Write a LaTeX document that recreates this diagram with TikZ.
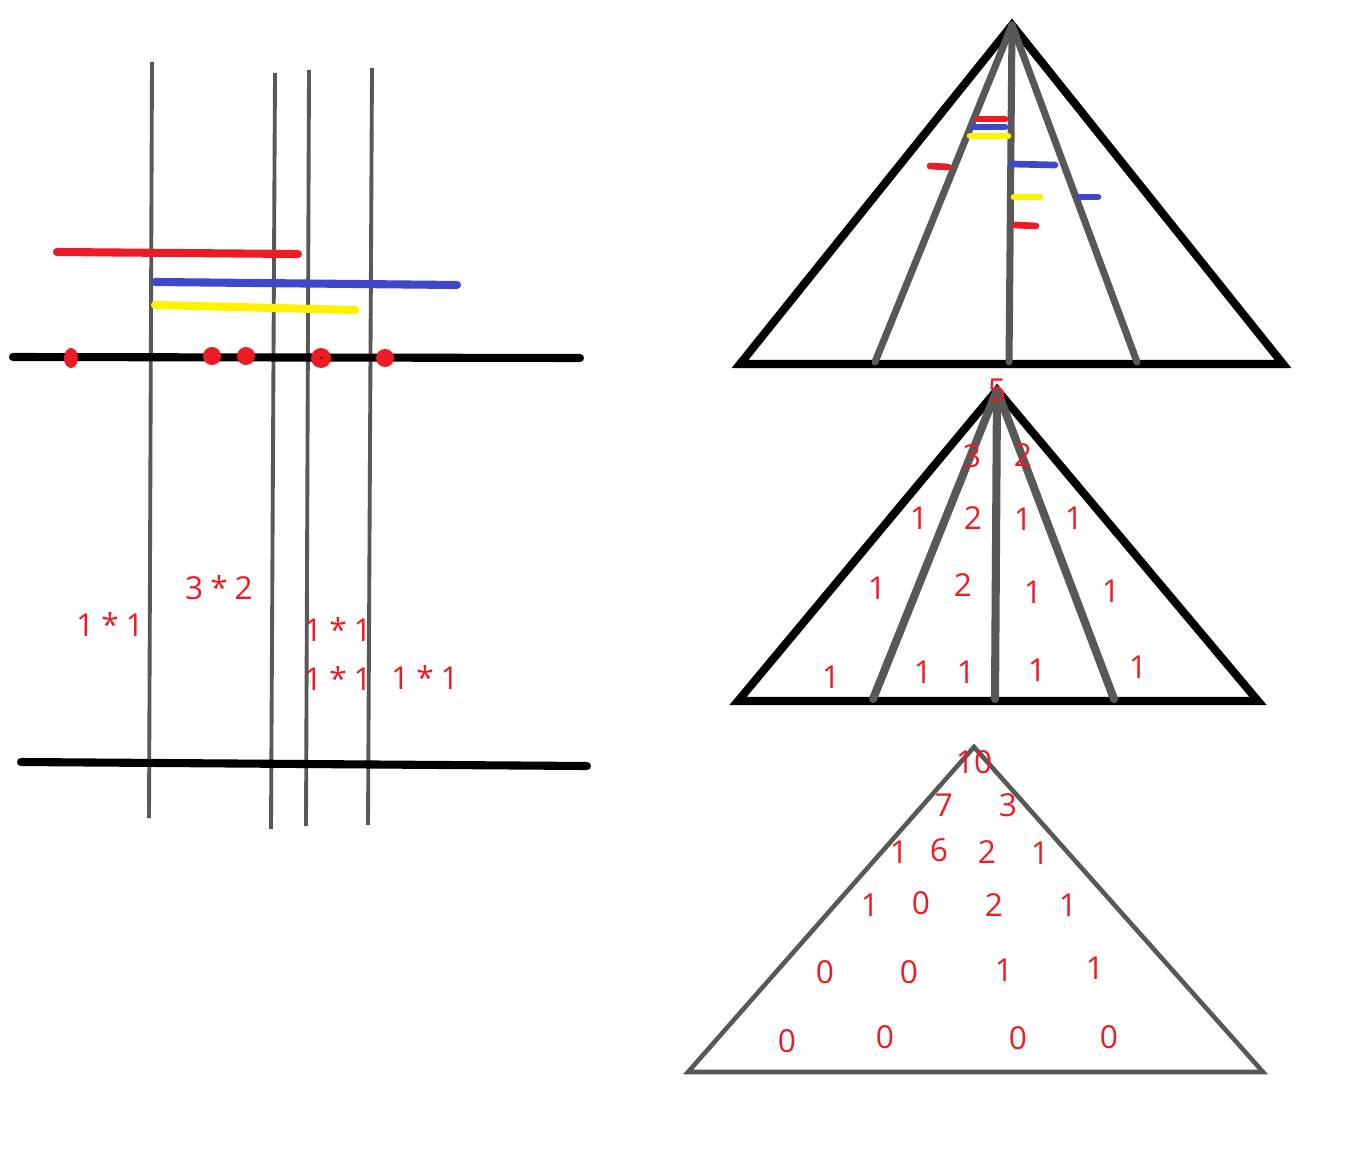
\documentclass[tikz,border=0pt]{standalone}
\usepackage{fontspec}
\setmainfont{Open Sans}
\usepackage{xcolor}
\usetikzlibrary{positioning}
\definecolor{inkred}{HTML}{ED1C24}
\definecolor{inkblue}{HTML}{3F48CC}
\definecolor{inkyellow}{HTML}{FFF200}
\definecolor{inkgray}{HTML}{585858}
\newcommand{\numfont}{\fontsize{9}{11}\selectfont\spaceskip=0.22em\relax}

\begin{document}
\begin{tikzpicture}[
  x=0.01cm,y=-0.01cm,
  num/.style={text=inkred,inner sep=0pt,font=\numfont},
  axis/.style={draw=black,line width=2.3pt,line cap=round},
  cut/.style={draw=inkgray,line width=1.1pt},
  ray/.style={draw=inkgray,line width=2pt,line cap=round},
  frame/.style={draw=black,line width=2.3pt},
  seg/.style={line width=2.3pt,line cap=round},
  tick/.style={line width=1.9pt,line cap=round},
  dot/.style={fill=inkred}
]
\useasboundingbox (0,0) rectangle (1371,1155);
% left sketch: cutting lines
\coordinate (c1t) at (152,62);  \coordinate (c1b) at (149,818);
\coordinate (c2t) at (275,73);  \coordinate (c2b) at (271,829);
\coordinate (c3t) at (309,70);  \coordinate (c3b) at (306,826);
\coordinate (c4t) at (372,68);  \coordinate (c4b) at (368,825);
\draw[cut] (c1t) -- (c1b);
\draw[cut] (c2t) -- (c2b);
\draw[cut] (c3t) -- (c3b);
\draw[cut] (c4t) -- (c4b);
% intervals
\draw[seg,inkred] (57,252) -- (298,254);
\draw[seg,inkblue] (155,282) -- (457,285);
\draw[seg,inkyellow] (155,305) -- (355,310);
% axes
\coordinate (axl) at (13,357);  \coordinate (axr) at (580,358);
\coordinate (bxl) at (21,762);  \coordinate (bxr) at (587,766);
\draw[axis] (axl) -- (axr);
\draw[axis] (bxl) -- (bxr);
\fill[dot] (71,358) ellipse[x radius=7,y radius=10];
\fill[dot] (212,356) circle[radius=9];
\fill[dot] (246,356) circle[radius=9];
\fill[dot] (321,358) circle[radius=10];
\fill[black] (321,358) circle[radius=1.2];
\fill[dot] (385,358) circle[radius=9];
% products
\node[num] (p1) at (110,624) {1 * 1};
\node[num] (p2) at (219,588) {3 * 2};
\node[num] (p3) at (338,629) {1 * 1};
\node[num] (p4) at (338,678) {1 * 1};
\node[num] (p5) at (425,677) {1 * 1};

% top triangle
\coordinate (ta) at (1012,25);
\coordinate (tl) at (740,364);
\coordinate (tr) at (1283,364);
\draw[frame] (ta) -- (tl) -- (tr) -- cycle;
\draw[ray] (ta) -- (875,362);
\draw[ray] (ta) -- (1009,362);
\draw[ray] (ta) -- (1137,362);
\draw[tick,inkred] (978,119) -- (1005,119);
\draw[tick,inkblue] (973,127) -- (1005,127);
\draw[tick,inkyellow] (970,136) -- (1008,136);
\draw[tick,inkred] (930,166) -- (948,167);
\draw[tick,inkblue] (1011,164) -- (1055,165);
\draw[tick,inkyellow] (1014,197) -- (1040,197);
\draw[tick,inkblue] (1079,197) -- (1098,197);
\draw[tick,inkred] (1015,225) -- (1036,226);

% middle triangle
\coordinate (ma) at (997,390);
\coordinate (ml) at (738,701);
\coordinate (mr) at (1258,701);
\draw[frame] (ma) -- (ml) -- (mr) -- cycle;
\draw[ray,line width=2.3pt] (ma) -- (873,699);
\draw[ray,line width=2.3pt] (ma) -- (995,699);
\draw[ray,line width=2.3pt] (ma) -- (1114,699);
\node[num] (m0) at (997,390) {5};
\node[num] (m1) at (972,456) {3};
\node[num] (m2) at (1023,455) {2};
\node[num] (m3) at (919,518) {1};
\node[num] (m4) at (973,518) {2};
\node[num] (m5) at (1023,519) {1};
\node[num] (m6) at (1074,518) {1};
\node[num] (m7) at (877,588) {1};
\node[num] (m8) at (963,585) {2};
\node[num] (m9) at (1033,592) {1};
\node[num] (m10) at (1111,591) {1};
\node[num] (m11) at (831,677) {1};
\node[num] (m12) at (923,672) {1};
\node[num] (m13) at (966,672) {1};
\node[num] (m14) at (1037,670) {1};
\node[num] (m15) at (1138,667) {1};

% bottom triangle
\coordinate (ba) at (974,747);
\coordinate (bl) at (688,1072);
\coordinate (br) at (1263,1072);
\draw[cut,line width=1.3pt] (ba) -- (bl) -- (br) -- cycle;
\node[num] (b0) at (974,762) {10};
\node[num] (b1) at (944,805) {7};
\node[num] (b2) at (1008,805) {3};
\node[num] (b3) at (899,852) {1};
\node[num] (b4) at (939,850) {6};
\node[num] (b5) at (987,852) {2};
\node[num] (b6) at (1040,853) {1};
\node[num] (b7) at (870,905) {1};
\node[num] (b8) at (921,903) {0};
\node[num] (b9) at (994,905) {2};
\node[num] (b10) at (1068,905) {1};
\node[num] (b11) at (825,972) {0};
\node[num] (b12) at (909,972) {0};
\node[num] (b13) at (1004,970) {1};
\node[num] (b14) at (1095,968) {1};
\node[num] (b15) at (787,1041) {0};
\node[num] (b16) at (885,1037) {0};
\node[num] (b17) at (1018,1038) {0};
\node[num] (b18) at (1109,1037) {0};
\end{tikzpicture}
\end{document}
